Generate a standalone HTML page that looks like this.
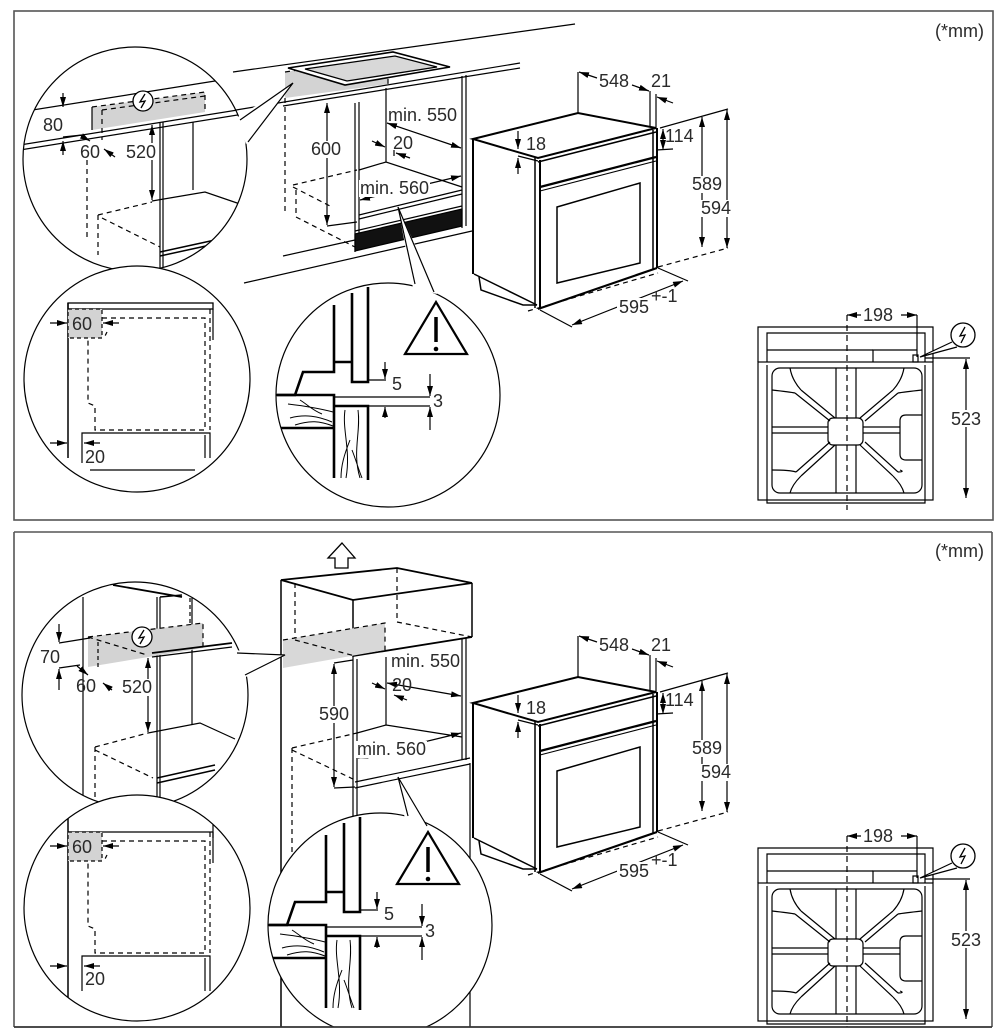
<!DOCTYPE html>
<html><head><meta charset="utf-8"><style>
html,body{margin:0;padding:0;background:#fff;}
svg{display:block;}
text{font-family:"Liberation Sans",Arial,sans-serif;font-size:18px;fill:#2a2a2a;}
</style></head><body>
<svg width="1008" height="1035" viewBox="0 0 1008 1035" xmlns="http://www.w3.org/2000/svg">
<defs>
<marker id="ar" viewBox="0 0 10 6" refX="10" refY="3" markerWidth="10" markerHeight="6" markerUnits="userSpaceOnUse" orient="auto-start-reverse"><path d="M0,0 L10,3 L0,6 z" fill="#000"/></marker>
<clipPath id="c1"><circle cx="135" cy="159" r="112"/></clipPath>
<clipPath id="c2"><circle cx="137" cy="379" r="113"/></clipPath>
<clipPath id="c3"><circle cx="388" cy="395" r="112"/></clipPath>
<clipPath id="cA"><circle cx="135" cy="695" r="113"/></clipPath>
<clipPath id="cB"><circle cx="137" cy="908" r="113"/></clipPath>
<clipPath id="cC"><circle cx="380" cy="925" r="112"/></clipPath>
<clipPath id="cBot"><rect x="0" y="0" width="1008" height="1027"/></clipPath>
</defs>
<rect width="1008" height="1035" fill="#fff"/>

<!-- ================= TOP PANEL ================= -->
<rect x="14" y="11" width="979" height="509" fill="none" stroke="#555" stroke-width="1.6"/>
<text x="935" y="37" font-size="17">(*mm)</text>

<g stroke="#000" stroke-width="1.2" fill="none">
 <line x1="233" y1="72" x2="575" y2="24"/>
 <line x1="236" y1="110" x2="520" y2="63"/>
 <line x1="283" y1="106" x2="520" y2="68"/>
 <polygon points="285,72 388,57 388,84 285,98" fill="#d3d3d3" stroke="none"/>
 <path d="M285,72 L388,57 V86" stroke-dasharray="5,4"/>
 <polygon points="288,68 393,52 450,67 345,85" fill="#fff" stroke-width="1.6"/>
 <polygon points="305,69 395,56 437,67 347,81" fill="#d8d8d8" stroke-width="1.3"/>
 <line x1="285" y1="98" x2="285" y2="212" stroke-dasharray="5,4"/>
 <line x1="355" y1="103" x2="355" y2="252"/>
 <line x1="359" y1="102" x2="359" y2="250"/>
 <line x1="386" y1="88" x2="386" y2="162"/>
 <line x1="462" y1="76" x2="462" y2="228"/>
 <line x1="466" y1="75" x2="466" y2="226"/>
 <polyline points="359,170 386,162 462,187"/>
 <line x1="359" y1="215" x2="462" y2="190"/>
 <line x1="359" y1="219" x2="462" y2="194"/>
 <line x1="355" y1="231" x2="462" y2="206"/>
 <polygon points="355,234 462,209 462,226 355,251" fill="#111"/>
 <line x1="244" y1="283" x2="472" y2="231"/>
 <line x1="283" y1="256" x2="355" y2="240"/>
 <line x1="293" y1="185" x2="357" y2="170" stroke-dasharray="5,4"/>
 <line x1="293" y1="187" x2="330" y2="206" stroke-dasharray="5,4"/>
 <line x1="296" y1="190" x2="296" y2="217" stroke-dasharray="5,4"/>
 <line x1="296" y1="217" x2="355" y2="247" stroke-dasharray="5,4"/>
 <line x1="327" y1="103" x2="327" y2="225" marker-start="url(#ar)" marker-end="url(#ar)"/>
 <line x1="327" y1="226" x2="357" y2="222"/>
 <line x1="387" y1="123" x2="461" y2="148" marker-start="url(#ar)" marker-end="url(#ar)"/>
 <line x1="372" y1="141" x2="385" y2="147" marker-end="url(#ar)"/>
 <line x1="410" y1="158" x2="396" y2="153" marker-end="url(#ar)"/>
 <line x1="394" y1="150" x2="394" y2="156"/>
 <line x1="360" y1="200" x2="461" y2="176" marker-start="url(#ar)" marker-end="url(#ar)"/>
</g>
<rect x="310" y="141" width="33" height="17" fill="#fff"/>
<text x="311" y="155">600</text>
<text x="388" y="121">min. 550</text>
<text x="393" y="149">20</text>
<rect x="359" y="180" width="71" height="17" fill="#fff"/>
<text x="360" y="194">min. 560</text>

<!-- oven top -->
<g>
<g stroke="#000" fill="none" stroke-width="1.2">
 <polygon points="473,139 578,113 656,128 538,158" fill="#fff" stroke-width="2"/>
 <line x1="473" y1="139" x2="473" y2="274" stroke-width="2"/>
 <line x1="474" y1="274" x2="537" y2="305" stroke-width="1.5"/>
 <polyline points="479,277 481,290 523,305 537,305" stroke-width="1.5"/>
 <line x1="535" y1="158" x2="535" y2="308" stroke-width="1.5"/>
 <line x1="540" y1="160" x2="540" y2="308" stroke-width="2"/>
 <line x1="653" y1="130" x2="653" y2="269" stroke-width="1.5"/>
 <line x1="657" y1="128" x2="657" y2="268" stroke-width="2"/>
 <line x1="538" y1="309" x2="657" y2="268" stroke-width="2.2"/>
 <line x1="538" y1="162" x2="656" y2="132" stroke-width="1.5"/>
 <line x1="540" y1="187" x2="656" y2="157" stroke-width="2.2"/>
 <line x1="540" y1="191" x2="656" y2="161" stroke-width="1"/>
 <polygon points="557,207 640,183 640,263 557,283" stroke-width="1.5"/>
 <line x1="578" y1="72" x2="578" y2="113"/>
 <line x1="597" y1="78" x2="579" y2="72" marker-end="url(#ar)"/>
 <line x1="632" y1="85" x2="649" y2="91" marker-end="url(#ar)"/>
 <line x1="650" y1="91" x2="650" y2="127"/>
 <line x1="656" y1="94" x2="656" y2="128"/>
 <line x1="673" y1="103" x2="657" y2="97" marker-end="url(#ar)"/>
 <line x1="518" y1="131" x2="518" y2="149" marker-end="url(#ar)"/>
 <line x1="518" y1="174" x2="518" y2="158" marker-end="url(#ar)"/>
 <line x1="518" y1="156" x2="538" y2="161"/>
 <line x1="663" y1="129" x2="663" y2="150" marker-start="url(#ar)" marker-end="url(#ar)"/>
 <line x1="656" y1="150" x2="673" y2="149"/>
 <line x1="660" y1="128" x2="728" y2="109"/>
 <line x1="702" y1="117" x2="702" y2="247" marker-start="url(#ar)" marker-end="url(#ar)"/>
 <line x1="727" y1="110" x2="727" y2="248" marker-start="url(#ar)" marker-end="url(#ar)"/>
 <line x1="658" y1="267" x2="728" y2="248" stroke-dasharray="5,4"/>
 <line x1="528" y1="311" x2="658" y2="273" stroke-dasharray="5,4"/>
 <line x1="540" y1="310" x2="572" y2="327"/>
 <line x1="658" y1="268" x2="688" y2="281"/>
 <line x1="572" y1="325" x2="683" y2="281" marker-start="url(#ar)" marker-end="url(#ar)"/>
</g>
<text x="599" y="87">548</text>
<text x="651" y="87">21</text>
<text x="526" y="150">18</text>
<text x="665" y="142">114</text>
<rect x="691" y="176" width="34" height="17" fill="#fff"/>
<text x="692" y="190">589</text>
<rect x="700" y="200" width="34" height="17" fill="#fff"/>
<text x="701" y="214">594</text>
<rect x="617" y="298" width="52" height="17" fill="#fff"/>
<text x="619" y="313">595</text>
<text x="651" y="302" font-size="11">+-1</text>
</g>

<!-- top view top -->
<g stroke="#000" fill="none" stroke-width="1.2">
 <line x1="847" y1="315" x2="917" y2="315" marker-start="url(#ar)" marker-end="url(#ar)"/>
 <line x1="847" y1="315" x2="847" y2="510" stroke-dasharray="6,4"/>
 <line x1="917" y1="315" x2="917" y2="357"/>
 <path d="M758,362 V327 H933 V362"/>
 <path d="M767,362 V333 H925 V362"/>
 <line x1="767" y1="350" x2="873" y2="350"/>
 <path d="M873,362 V350 H917"/>
 <rect x="913" y="355" width="5" height="7"/>
 <rect x="758" y="362" width="175" height="138"/>
 <path d="M767,365 V503 H925 V365"/>
 <rect x="772" y="368" width="150" height="125" rx="8"/>
 <path d="M836,368 V418 M856,368 V418 M836,445 V493 M856,445 V493"/>
 <path d="M772,427 H828 M772,433 H828 M863,427 H900 M863,433 H900"/>
 <rect x="828" y="418" width="35" height="27" rx="5"/>
 <path d="M922,415 H906 Q900,415 900,421 V454 Q900,460 906,460 H922"/>
 <path d="M830,421 L795,393 M835,418 L801,390"/>
 <path d="M860,418 L893,390 M865,421 L898,393"/>
 <path d="M830,442 L796,472 M835,445 L801,476"/>
 <path d="M860,445 L893,476 M865,442 L898,472"/>
 <path d="M772,390 Q790,392 795,393 M801,390 Q792,380 790,368"/>
 <path d="M922,390 Q904,392 898,393 M893,390 Q902,380 904,368"/>
 <path d="M772,470 Q790,470 796,472 M801,476 Q792,485 790,493"/>
 <path d="M898,472 Q905,472 900,470 M893,476 Q902,485 904,493"/>
 <line x1="925" y1="358" x2="970" y2="358"/>
 <line x1="966" y1="359" x2="966" y2="498" marker-start="url(#ar)" marker-end="url(#ar)"/>
 <path d="M952,342 L920,357 L957,347" fill="#fff"/>
 <circle cx="963" cy="335" r="12" fill="#fff" stroke-width="1.3"/>
 <path d="M965,327 L960,336 L965,335 L961,343" stroke-width="1.3"/>
</g>
<rect x="861" y="307" width="40" height="17" fill="#fff"/>
<text x="863" y="321">198</text>
<rect x="949" y="410" width="35" height="17" fill="#fff"/>
<text x="951" y="425">523</text>

<!-- circle 1 -->
<circle cx="135" cy="159" r="112" fill="#fff"/>
<g clip-path="url(#c1)" stroke="#000" stroke-width="1.2" fill="none">
 <line x1="20" y1="112" x2="215" y2="81"/>
 <polygon points="92,107 205,92 205,112 92,130" fill="#d3d3d3" stroke="none"/>
 <path d="M92,107 L205,92 V112" stroke-dasharray="5,4"/>
 <path d="M102,110 L205,96" stroke-dasharray="5,4"/>
 <line x1="102" y1="110" x2="102" y2="140" stroke-dasharray="5,4"/>
 <line x1="92" y1="107" x2="92" y2="130"/>
 <line x1="20" y1="145" x2="250" y2="108"/>
 <line x1="20" y1="150" x2="250" y2="113"/>
 <line x1="63" y1="93" x2="63" y2="107" marker-end="url(#ar)"/>
 <line x1="63" y1="155" x2="63" y2="141" marker-end="url(#ar)"/>
 <line x1="63" y1="137" x2="82" y2="135"/>
 <line x1="80" y1="135" x2="90" y2="141" marker-end="url(#ar)"/>
 <line x1="115" y1="157" x2="104" y2="149" marker-end="url(#ar)"/>
 <line x1="152" y1="125" x2="152" y2="200" marker-start="url(#ar)" marker-end="url(#ar)"/>
 <line x1="160" y1="123" x2="160" y2="280"/>
 <line x1="163" y1="122" x2="163" y2="280"/>
 <line x1="193" y1="122" x2="193" y2="190"/>
 <polyline points="152,201 205,192 240,204"/>
 <line x1="98" y1="215" x2="152" y2="202" stroke-dasharray="5,4"/>
 <line x1="98" y1="215" x2="98" y2="255" stroke-dasharray="5,4"/>
 <line x1="102" y1="218" x2="160" y2="247" stroke-dasharray="5,4"/>
 <line x1="87" y1="160" x2="87" y2="240" stroke-dasharray="5,4"/>
 <line x1="160" y1="252" x2="215" y2="240" stroke-width="1.5"/>
 <line x1="160" y1="256" x2="215" y2="244" stroke-width="1.5"/>
 <circle cx="143" cy="101" r="10" fill="#fff" stroke-width="1.3"/>
 <path d="M145,94 L140,102 L145,101 L141,108" stroke-width="1.3"/>
</g>
<rect x="125" y="143" width="34" height="17" fill="#fff"/>
<text x="43" y="131">80</text>
<text x="80" y="158">60</text>
<text x="126" y="158">520</text>
<circle cx="135" cy="159" r="112" fill="none" stroke="#000" stroke-width="1.2"/>
<polygon points="236,118 293,83 246,144" fill="#fff"/>
<path d="M240,120 L293,83 L248,142" fill="none" stroke="#000" stroke-width="1.2"/>

<!-- circle 2 -->
<circle cx="137" cy="379" r="113" fill="#fff"/>
<g clip-path="url(#c2)" stroke="#000" stroke-width="1.2" fill="none">
 <rect x="68" y="303" width="145" height="6" stroke-width="1.3"/>
 <line x1="68" y1="303" x2="68" y2="458" stroke-width="1.5"/>
 <rect x="68" y="309" width="34" height="29" fill="#d3d3d3" stroke-dasharray="4,3"/>
 <line x1="50" y1="323" x2="67" y2="323" marker-end="url(#ar)"/>
 <line x1="119" y1="323" x2="103" y2="323" marker-end="url(#ar)"/>
 <path d="M102,318 H205 V430 H95 V406 L88,403 V338" stroke-dasharray="5,4"/>
 <line x1="107" y1="332" x2="104" y2="338" stroke-dasharray="4,3"/>
 <line x1="210" y1="309" x2="210" y2="430" stroke-dasharray="5,4"/>
 <line x1="213" y1="309" x2="213" y2="340"/>
 <path d="M82,463 V433 H210 V458"/>
 <line x1="205" y1="435" x2="205" y2="458"/>
 <line x1="90" y1="470" x2="195" y2="470"/>
 <line x1="50" y1="443" x2="67" y2="443" marker-end="url(#ar)"/>
 <line x1="100" y1="443" x2="84" y2="443" marker-end="url(#ar)"/>
</g>
<text x="72" y="330">60</text>
<text x="85" y="463">20</text>
<circle cx="137" cy="379" r="113" fill="none" stroke="#000" stroke-width="1.2"/>

<!-- circle 3 -->
<circle cx="388" cy="395" r="112" fill="#fff"/>
<g clip-path="url(#c3)" stroke="#000" stroke-width="1.2" fill="none">
 <g stroke-width="2.6">
  <polyline points="270,395 295,395 303,372 334,372 334,305"/>
  <line x1="334" y1="362" x2="352" y2="362"/>
  <polyline points="352,293 352,382 368,382 368,287"/>
  <polyline points="277,395 334,395 334,478"/>
  <polyline points="334,406 368,406 368,480"/>
  <line x1="280" y1="428" x2="334" y2="428"/>
 </g>
 <line x1="334" y1="397" x2="430" y2="397"/>
 <line x1="368" y1="406" x2="430" y2="406"/>
 <line x1="368" y1="380" x2="386" y2="380"/>
 <line x1="385" y1="362" x2="385" y2="379" marker-end="url(#ar)"/>
 <line x1="385" y1="418" x2="385" y2="407" marker-end="url(#ar)"/>
 <line x1="430" y1="374" x2="430" y2="396" marker-end="url(#ar)"/>
 <line x1="430" y1="430" x2="430" y2="407" marker-end="url(#ar)"/>
 <path d="M345,410 C342,430 351,450 346,478 M358,410 C361,432 352,452 360,478 M350,440 C344,455 341,466 341,478 M352,450 C356,460 358,468 362,478" stroke-width="1"/>
 <path d="M288,404 C305,406 318,408 333,412 M290,418 C305,414 318,416 332,422 M300,400 C308,405 312,410 322,414 M295,425 C310,420 320,421 333,426" stroke-width="1"/>
 <polygon points="405,354 436,302 467,354" stroke-width="2.2" stroke-linejoin="miter"/>
 <line x1="436" y1="317" x2="436" y2="342" stroke-width="3.5"/>
 <circle cx="436" cy="349" r="2.3" fill="#000" stroke="none"/>
</g>
<text x="392" y="390">5</text>
<text x="433" y="407">3</text>
<circle cx="388" cy="395" r="112" fill="none" stroke="#000" stroke-width="1.2"/>
<polygon points="413,288 398,207 437,294" fill="#fff"/>
<path d="M415,284 L398,207 L434,292" fill="none" stroke="#000" stroke-width="1.2"/>

<!-- ================= BOTTOM PANEL ================= -->
<line x1="14" y1="532" x2="992" y2="532" stroke="#555" stroke-width="1.6"/>
<line x1="14" y1="532" x2="14" y2="1027" stroke="#555" stroke-width="1.6"/>
<line x1="992" y1="532" x2="992" y2="1027" stroke="#555" stroke-width="1.6"/>
<text x="935" y="557" font-size="17">(*mm)</text>

<g clip-path="url(#cBot)">
<g stroke="#000" stroke-width="1.2" fill="none">
 <polygon points="342,543 355,558 348,558 348,568 335,568 335,558 328,558" stroke-width="1.3"/>
 <line x1="281" y1="580" x2="281" y2="1030" stroke-width="1.5"/>
 <polygon points="281,580 353,600 472,583 397,568" stroke-width="1.8"/>
 <line x1="353" y1="600" x2="353" y2="657" stroke-width="1.5"/>
 <line x1="472" y1="583" x2="472" y2="637" stroke-width="1.5"/>
 <line x1="353" y1="656" x2="472" y2="637" stroke-width="1.8"/>
 <line x1="295" y1="583" x2="295" y2="640" stroke-dasharray="5,4"/>
 <line x1="397" y1="568" x2="397" y2="622" stroke-dasharray="5,4"/>
 <line x1="397" y1="622" x2="472" y2="637" stroke-dasharray="5,4"/>
 <polygon points="283,640 385,623 385,650 283,668" fill="#d8d8d8" stroke="none"/>
 <path d="M283,640 L385,623 V650" stroke-dasharray="5,4"/>
 <line x1="295" y1="640" x2="355" y2="656" stroke-dasharray="5,4"/>
 <line x1="353" y1="657" x2="353" y2="1030"/>
 <line x1="357" y1="659" x2="357" y2="1030"/>
 <line x1="462" y1="638" x2="462" y2="760"/>
 <line x1="466" y1="638" x2="466" y2="760"/>
 <line x1="470" y1="763" x2="470" y2="1030"/>
 <line x1="386" y1="657" x2="386" y2="725"/>
 <polyline points="357,733 386,725 462,737"/>
 <line x1="355" y1="782" x2="470" y2="758"/>
 <line x1="355" y1="788" x2="470" y2="764"/>
 <line x1="334" y1="664" x2="334" y2="787" marker-start="url(#ar)" marker-end="url(#ar)"/>
 <line x1="334" y1="663" x2="353" y2="660"/>
 <line x1="334" y1="788" x2="355" y2="787"/>
 <line x1="387" y1="683" x2="461" y2="696" marker-start="url(#ar)" marker-end="url(#ar)"/>
 <line x1="372" y1="683" x2="385" y2="689" marker-end="url(#ar)"/>
 <line x1="407" y1="700" x2="394" y2="695" marker-end="url(#ar)"/>
 <line x1="358" y1="758" x2="461" y2="733" marker-start="url(#ar)" marker-end="url(#ar)"/>
 <line x1="292" y1="748" x2="357" y2="733" stroke-dasharray="5,4"/>
 <line x1="292" y1="748" x2="292" y2="870" stroke-dasharray="5,4"/>
 <line x1="292" y1="750" x2="355" y2="780" stroke-dasharray="5,4"/>
</g>
</g>
<rect x="318" y="706" width="34" height="17" fill="#fff"/>
<text x="319" y="720">590</text>
<text x="391" y="667">min. 550</text>
<text x="392" y="691">20</text>
<rect x="356" y="741" width="71" height="17" fill="#fff"/>
<text x="357" y="755">min. 560</text>

<!-- oven bottom -->
<g transform="translate(0,564)">
<g stroke="#000" fill="none" stroke-width="1.2">
 <polygon points="473,139 578,113 656,128 538,158" fill="#fff" stroke-width="2"/>
 <line x1="473" y1="139" x2="473" y2="274" stroke-width="2"/>
 <line x1="474" y1="274" x2="537" y2="305" stroke-width="1.5"/>
 <polyline points="479,277 481,290 523,305 537,305" stroke-width="1.5"/>
 <line x1="535" y1="158" x2="535" y2="308" stroke-width="1.5"/>
 <line x1="540" y1="160" x2="540" y2="308" stroke-width="2"/>
 <line x1="653" y1="130" x2="653" y2="269" stroke-width="1.5"/>
 <line x1="657" y1="128" x2="657" y2="268" stroke-width="2"/>
 <line x1="538" y1="309" x2="657" y2="268" stroke-width="2.2"/>
 <line x1="538" y1="162" x2="656" y2="132" stroke-width="1.5"/>
 <line x1="540" y1="187" x2="656" y2="157" stroke-width="2.2"/>
 <line x1="540" y1="191" x2="656" y2="161" stroke-width="1"/>
 <polygon points="557,207 640,183 640,263 557,283" stroke-width="1.5"/>
 <line x1="578" y1="72" x2="578" y2="113"/>
 <line x1="597" y1="78" x2="579" y2="72" marker-end="url(#ar)"/>
 <line x1="632" y1="85" x2="649" y2="91" marker-end="url(#ar)"/>
 <line x1="650" y1="91" x2="650" y2="127"/>
 <line x1="656" y1="94" x2="656" y2="128"/>
 <line x1="673" y1="103" x2="657" y2="97" marker-end="url(#ar)"/>
 <line x1="518" y1="131" x2="518" y2="149" marker-end="url(#ar)"/>
 <line x1="518" y1="174" x2="518" y2="158" marker-end="url(#ar)"/>
 <line x1="518" y1="156" x2="538" y2="161"/>
 <line x1="663" y1="129" x2="663" y2="150" marker-start="url(#ar)" marker-end="url(#ar)"/>
 <line x1="656" y1="150" x2="673" y2="149"/>
 <line x1="660" y1="128" x2="728" y2="109"/>
 <line x1="702" y1="117" x2="702" y2="247" marker-start="url(#ar)" marker-end="url(#ar)"/>
 <line x1="727" y1="110" x2="727" y2="248" marker-start="url(#ar)" marker-end="url(#ar)"/>
 <line x1="658" y1="267" x2="728" y2="248" stroke-dasharray="5,4"/>
 <line x1="528" y1="311" x2="658" y2="273" stroke-dasharray="5,4"/>
 <line x1="540" y1="310" x2="572" y2="327"/>
 <line x1="658" y1="268" x2="688" y2="281"/>
 <line x1="572" y1="325" x2="683" y2="281" marker-start="url(#ar)" marker-end="url(#ar)"/>
</g>
<text x="599" y="87">548</text>
<text x="651" y="87">21</text>
<text x="526" y="150">18</text>
<text x="665" y="142">114</text>
<rect x="691" y="176" width="34" height="17" fill="#fff"/>
<text x="692" y="190">589</text>
<rect x="700" y="200" width="34" height="17" fill="#fff"/>
<text x="701" y="214">594</text>
<rect x="617" y="298" width="52" height="17" fill="#fff"/>
<text x="619" y="313">595</text>
<text x="651" y="302" font-size="11">+-1</text>
</g>

<!-- top view bottom -->
<g transform="translate(0,521)">
<g stroke="#000" fill="none" stroke-width="1.2">
 <line x1="847" y1="315" x2="917" y2="315" marker-start="url(#ar)" marker-end="url(#ar)"/>
 <line x1="847" y1="315" x2="847" y2="506" stroke-dasharray="6,4"/>
 <line x1="917" y1="315" x2="917" y2="357"/>
 <path d="M758,362 V327 H933 V362"/>
 <path d="M767,362 V333 H925 V362"/>
 <line x1="767" y1="350" x2="873" y2="350"/>
 <path d="M873,362 V350 H917"/>
 <rect x="913" y="355" width="5" height="7"/>
 <rect x="758" y="362" width="175" height="138"/>
 <path d="M767,365 V503 H925 V365"/>
 <rect x="772" y="368" width="150" height="125" rx="8"/>
 <path d="M836,368 V418 M856,368 V418 M836,445 V493 M856,445 V493"/>
 <path d="M772,427 H828 M772,433 H828 M863,427 H900 M863,433 H900"/>
 <rect x="828" y="418" width="35" height="27" rx="5"/>
 <path d="M922,415 H906 Q900,415 900,421 V454 Q900,460 906,460 H922"/>
 <path d="M830,421 L795,393 M835,418 L801,390"/>
 <path d="M860,418 L893,390 M865,421 L898,393"/>
 <path d="M830,442 L796,472 M835,445 L801,476"/>
 <path d="M860,445 L893,476 M865,442 L898,472"/>
 <path d="M772,390 Q790,392 795,393 M801,390 Q792,380 790,368"/>
 <path d="M922,390 Q904,392 898,393 M893,390 Q902,380 904,368"/>
 <path d="M772,470 Q790,470 796,472 M801,476 Q792,485 790,493"/>
 <path d="M898,472 Q905,472 900,470 M893,476 Q902,485 904,493"/>
 <line x1="925" y1="358" x2="970" y2="358"/>
 <line x1="966" y1="359" x2="966" y2="498" marker-start="url(#ar)" marker-end="url(#ar)"/>
 <path d="M952,342 L920,357 L957,347" fill="#fff"/>
 <circle cx="963" cy="335" r="12" fill="#fff" stroke-width="1.3"/>
 <path d="M965,327 L960,336 L965,335 L961,343" stroke-width="1.3"/>
</g>
<rect x="861" y="307" width="40" height="17" fill="#fff"/>
<text x="863" y="321">198</text>
<rect x="949" y="410" width="35" height="17" fill="#fff"/>
<text x="951" y="425">523</text>
</g>

<!-- circle A -->
<circle cx="135" cy="695" r="113" fill="#fff"/>
<g clip-path="url(#cA)" stroke="#000" stroke-width="1.2" fill="none">
 <line x1="83" y1="597" x2="83" y2="810"/>
 <line x1="113" y1="585" x2="182" y2="597" stroke-width="1.8"/>
 <line x1="160" y1="597" x2="182" y2="595" stroke-width="1.5"/>
 <line x1="157" y1="597" x2="157" y2="810"/>
 <line x1="160" y1="597" x2="160" y2="810"/>
 <line x1="192" y1="598" x2="192" y2="725"/>
 <line x1="190" y1="598" x2="190" y2="625" stroke-dasharray="4,3"/>
 <polygon points="88,637 203,623 203,648 88,667" fill="#d3d3d3" stroke="none"/>
 <path d="M88,637 L203,623 V648" stroke-dasharray="5,4"/>
 <line x1="88" y1="637" x2="147" y2="655" stroke-dasharray="5,4"/>
 <line x1="98" y1="642" x2="98" y2="667" stroke-dasharray="4,3"/>
 <line x1="152" y1="653" x2="232" y2="643" stroke-width="1.8"/>
 <line x1="152" y1="657" x2="232" y2="647" stroke-width="1.2"/>
 <line x1="59" y1="624" x2="59" y2="642" marker-end="url(#ar)"/>
 <line x1="59" y1="690" x2="59" y2="669" marker-end="url(#ar)"/>
 <line x1="59" y1="643" x2="90" y2="638"/>
 <line x1="59" y1="668" x2="80" y2="665"/>
 <line x1="77" y1="666" x2="88" y2="675" marker-end="url(#ar)"/>
 <line x1="112" y1="690" x2="103" y2="683" marker-end="url(#ar)"/>
 <line x1="148" y1="658" x2="148" y2="732" marker-start="url(#ar)" marker-end="url(#ar)"/>
 <polyline points="148,733 200,723 235,739"/>
 <line x1="95" y1="747" x2="148" y2="733" stroke-dasharray="5,4"/>
 <line x1="95" y1="747" x2="95" y2="810" stroke-dasharray="5,4"/>
 <line x1="95" y1="750" x2="153" y2="778" stroke-dasharray="5,4"/>
 <line x1="157" y1="778" x2="215" y2="765" stroke-width="1.5"/>
 <line x1="157" y1="783" x2="215" y2="770" stroke-width="1.5"/>
 <circle cx="142" cy="637" r="10" fill="#fff" stroke-width="1.3"/>
 <path d="M144,630 L139,638 L144,637 L140,644" stroke-width="1.3"/>
</g>
<rect x="121" y="679" width="35" height="17" fill="#fff"/>
<text x="40" y="663">70</text>
<text x="76" y="692">60</text>
<text x="122" y="693">520</text>
<circle cx="135" cy="695" r="113" fill="none" stroke="#000" stroke-width="1.2"/>
<polygon points="234,650 285,655 244,678" fill="#fff"/>
<path d="M237,653 L285,655 L245,675" fill="none" stroke="#000" stroke-width="1.2"/>

<!-- circle B -->
<circle cx="137" cy="908" r="113" fill="#fff"/>
<g clip-path="url(#cB)">
<g transform="translate(0,529)" stroke="#000" stroke-width="1.2" fill="none">
 <line x1="68" y1="303" x2="213" y2="303" stroke-width="1.3"/>
 <line x1="68" y1="280" x2="68" y2="470" stroke-width="1.5"/>
 <line x1="213" y1="295" x2="213" y2="309"/>
 <rect x="68" y="303" width="34" height="29" fill="#d3d3d3" stroke-dasharray="4,3"/>
 <line x1="50" y1="317" x2="67" y2="317" marker-end="url(#ar)"/>
 <line x1="119" y1="317" x2="103" y2="317" marker-end="url(#ar)"/>
 <path d="M102,312 H205 V424 H95 V400 L88,397 V332" stroke-dasharray="5,4"/>
 <line x1="107" y1="326" x2="104" y2="332" stroke-dasharray="4,3"/>
 <line x1="210" y1="303" x2="210" y2="424" stroke-dasharray="5,4"/>
 <line x1="213" y1="303" x2="213" y2="334"/>
 <path d="M82,462 V427 H210 V462"/>
 <line x1="205" y1="429" x2="205" y2="462"/>
 <line x1="50" y1="437" x2="67" y2="437" marker-end="url(#ar)"/>
 <line x1="100" y1="437" x2="84" y2="437" marker-end="url(#ar)"/>
</g>
</g>
<text x="72" y="853">60</text>
<text x="85" y="985">20</text>
<circle cx="137" cy="908" r="113" fill="none" stroke="#000" stroke-width="1.2"/>

<!-- circle C -->
<g clip-path="url(#cBot)">
<circle cx="380" cy="925" r="112" fill="#fff"/>
<g clip-path="url(#cC)">
<g transform="translate(-8,530)" stroke="#000" stroke-width="1.2" fill="none">
 <g stroke-width="2.6">
  <polyline points="270,395 295,395 303,372 334,372 334,305"/>
  <line x1="334" y1="362" x2="352" y2="362"/>
  <polyline points="352,293 352,382 368,382 368,287"/>
  <polyline points="277,395 334,395 334,478"/>
  <polyline points="334,406 368,406 368,480"/>
  <line x1="280" y1="428" x2="334" y2="428"/>
 </g>
 <line x1="334" y1="397" x2="430" y2="397"/>
 <line x1="368" y1="406" x2="430" y2="406"/>
 <line x1="368" y1="380" x2="386" y2="380"/>
 <line x1="385" y1="362" x2="385" y2="379" marker-end="url(#ar)"/>
 <line x1="385" y1="418" x2="385" y2="407" marker-end="url(#ar)"/>
 <line x1="430" y1="374" x2="430" y2="396" marker-end="url(#ar)"/>
 <line x1="430" y1="430" x2="430" y2="407" marker-end="url(#ar)"/>
 <path d="M345,410 C342,430 351,450 346,478 M358,410 C361,432 352,452 360,478 M350,440 C344,455 341,466 341,478 M352,450 C356,460 358,468 362,478" stroke-width="1"/>
 <path d="M288,404 C305,406 318,408 333,412 M290,418 C305,414 318,416 332,422 M300,400 C308,405 312,410 322,414 M295,425 C310,420 320,421 333,426" stroke-width="1"/>
 <polygon points="405,354 436,302 467,354" stroke-width="2.2"/>
 <line x1="436" y1="317" x2="436" y2="342" stroke-width="3.5"/>
 <circle cx="436" cy="349" r="2.3" fill="#000" stroke="none"/>
</g>
</g>
<circle cx="380" cy="925" r="112" fill="none" stroke="#000" stroke-width="1.2"/>
</g>
<text x="384" y="920">5</text>
<text x="425" y="937">3</text>
<polygon points="405,820 398,777 429,830" fill="#fff"/>
<path d="M408,816 L398,777 L427,826" fill="none" stroke="#000" stroke-width="1.2"/>

<line x1="14" y1="1027" x2="992" y2="1027" stroke="#333" stroke-width="1.8"/>
</svg>
</body></html>
